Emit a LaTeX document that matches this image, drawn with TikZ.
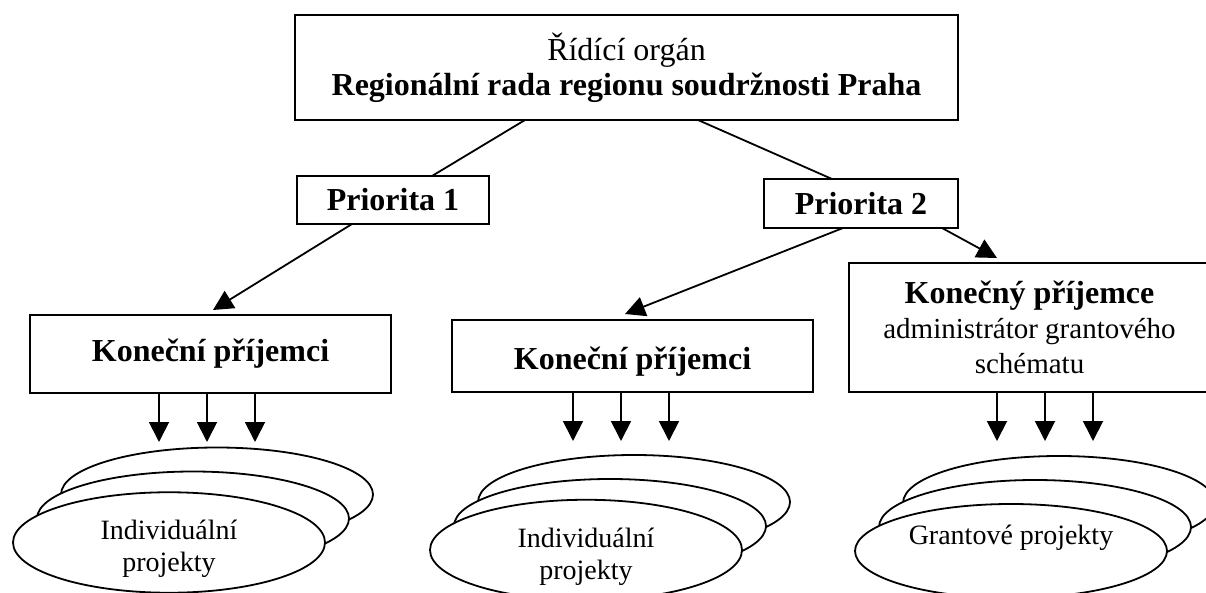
\documentclass[tikz,border=0pt]{standalone}
\usepackage{fontspec}
\setmainfont{Liberation Serif}
\usetikzlibrary{arrows.meta, positioning, shapes.geometric}

\begin{document}
\begin{tikzpicture}[x=1pt, y=-1pt, line width=1.8pt,
    box/.style={draw, inner sep=0pt, outer sep=0pt, align=center, font=\fontsize{32}{35}\selectfont},
    proj/.style={ellipse, draw, fill=white, inner sep=0pt, outer sep=0pt, minimum width=312pt, minimum height=94pt, align=center, font=\fontsize{28}{32}\selectfont},
    arr/.style={-{Triangle[length=20pt, width=20pt]}}]
   \useasboundingbox (0,0) rectangle (1206,593);

   \node[box, minimum width=663pt, minimum height=105pt] (ro) at (626.5,67.5) {Řídící orgán\\\textbf{Regionální rada regionu soudržnosti Praha}};
   \node[box, minimum width=192pt, minimum height=48pt, below=56pt of ro, xshift=-233.5pt] (p1) {\textbf{Priorita 1}};
   \node[box, minimum width=194pt, minimum height=49pt, below=59pt of ro, xshift=234.5pt] (p2) {\textbf{Priorita 2}};
   \node[box, minimum width=361pt, minimum height=78pt, below=91pt of p1, xshift=-182.5pt] (kp1) {\textbf{Koneční příjemci}};
   \node[box, minimum width=361pt, minimum height=72pt, text height=34pt, below=92pt of p2, xshift=-228.5pt] (kp2) {\textbf{Koneční příjemci}};
   \node[box, minimum width=361pt, minimum height=129pt, below=35pt of p2, xshift=168.5pt] (kp3) {\textbf{Konečný příjemce}\\\fontsize{29}{34}\selectfont administrátor grantového\\\fontsize{29}{34}\selectfont schématu};

   % stacked projects
   \node[proj, below=54.5pt of kp1, xshift=6.5pt] (b1) {};
   \node[proj, shift={(-24pt,-24pt)}] (m1) at (b1) {};
   \node[proj, shift={(-48pt,-48pt)}] (f1) at (b1) {\rule{0pt}{33pt}Individuální\\projekty};
   \node[proj, below=63pt of kp2, xshift=1.5pt] (b2) {};
   \node[proj, shift={(-24pt,-24pt)}] (m2) at (b2) {};
   \node[proj, shift={(-48pt,-48pt)}] (f2) at (b2) {\rule{0pt}{33pt}Individuální\\projekty};
   \node[proj, below=64pt of kp3, xshift=29.5pt] (b3) {};
   \node[proj, shift={(-24pt,-24pt)}] (m3) at (b3) {};
   \node[proj, shift={(-48pt,-48pt)}] (f3) at (b3) {Grantové projekty\\[0pt]~};

   \draw ([xshift=-101.5pt]ro.south) -- ([xshift=39pt]p1.north);
   \draw ([xshift=71.5pt]ro.south) -- ([xshift=-29pt]p2.north);
   \draw[arr] ([xshift=-41pt]p1.south) -- ([xshift=2.5pt, yshift=5pt]kp1.north);
   \draw[arr] ([xshift=-18pt]p2.south) -- ([xshift=-7.5pt, yshift=6pt]kp2.north);
   \draw[arr] ([xshift=81pt]p2.south) -- ([xshift=-32.5pt, yshift=5pt]kp3.north);

   \foreach \dx in {-48,0,48} {
      \draw[arr] ([xshift=\dx pt-3.5pt]kp1.south) -- ++(0,49);
      \draw[arr] ([xshift=\dx pt-11.5pt]kp2.south) -- ++(0,49);
      \draw[arr] ([xshift=\dx pt+15.5pt]kp3.south) -- ++(0,49);
   }
\end{tikzpicture}
\end{document}
